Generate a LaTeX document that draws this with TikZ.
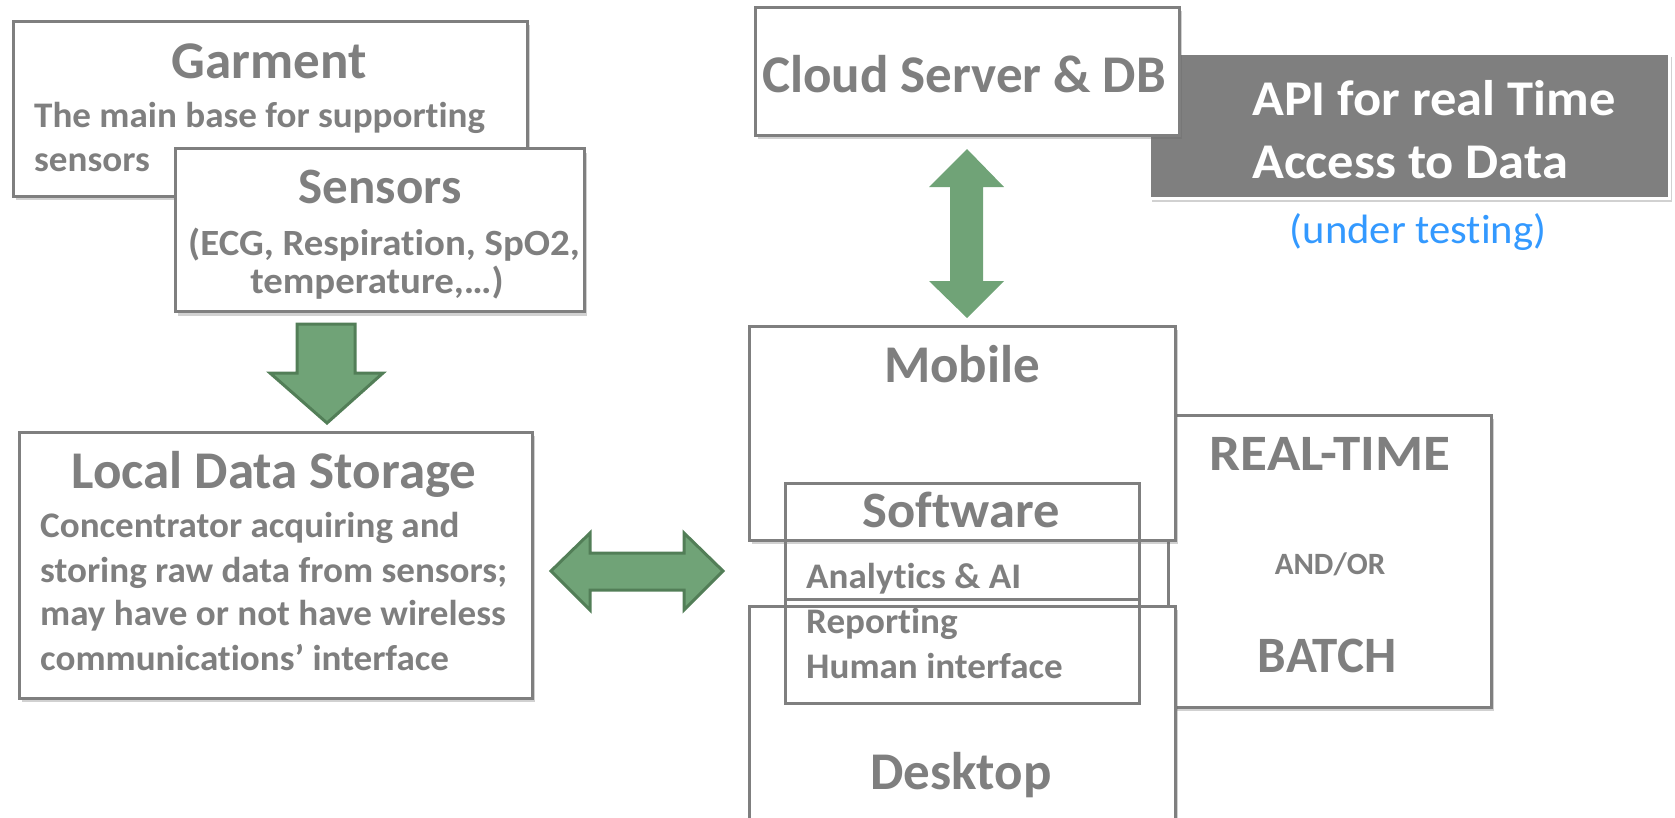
\documentclass[tikz,border=0pt]{standalone}
\usepackage{fontspec}
\setmainfont[Ligatures=NoCommon]{Carlito}
\usetikzlibrary{shadows}
\definecolor{bgray}{HTML}{7F7F7F}
\definecolor{gfill}{HTML}{70A377}
\definecolor{gline}{HTML}{527E57}
\definecolor{tblue}{HTML}{3399FF}
\begin{document}
\begin{tikzpicture}[x=1pt,y=-1pt,
  box/.style={draw=bgray, line width=3pt, fill=white, inner sep=0pt, outer sep=0pt,
    drop shadow={shadow xshift=3pt, shadow yshift=-4pt, opacity=0.3, fill=black!60}},
  plainbox/.style={draw=bgray, line width=3pt, inner sep=0pt, outer sep=0pt},
  ttl/.style={text=bgray, font=\fontsize{53}{60}\selectfont\bfseries, anchor=base, inner sep=0pt},
  bdy/.style={text=bgray, font=\fontsize{36}{40}\selectfont\bfseries\addfontfeature{FakeStretch=1.03}, anchor=base west, inner sep=0pt},
  sbdy/.style={text=bgray, font=\fontsize{37}{40}\selectfont\bfseries\addfontfeature{FakeStretch=1.05}, anchor=base, inner sep=0pt},
  garrow/.style={fill=gfill, draw=gline, line width=3pt, line join=miter},
]
\useasboundingbox (0,0) rectangle (1675,817);
\clip (0,0) rectangle (1675,817);

% Garment and Sensors
\node[box, minimum width=514pt, minimum height=175pt] (garment) at (270,108.5) {};
\node[ttl] (garmentT) at (269,78) {Garment};
\node[bdy] (garmentB1) at (34,127) {The main base for supporting};
\node[bdy] (garmentB2) at (34,171) {sensors};
\node[box, minimum width=409pt, minimum height=163pt] (sensors) at (379.5,230) {};
\node[ttl, font=\fontsize{51}{60}\selectfont\bfseries] (sensorsT) at (380,203) {Sensors};
\node[sbdy] (sensorsB1) at (384,255) {(ECG, Respiration, SpO2,};
\node[sbdy] (sensorsB2) at (377,293) {temperature,…)};

% down arrow
\draw[garrow] (297,324) -- (355,324) -- (355,373) -- (383,373) -- (327,423) -- (270,373) -- (297,373) -- cycle;

% Local data storage
\node[box, minimum width=513pt, minimum height=266pt] (local) at (275.5,565) {};
\node[ttl] (localT) at (274,488) {Local Data Storage};
\node[bdy] (localB1) at (40,537) {Concentrator acquiring and};
\node[bdy] (localB2) at (40,582) {storing raw data from sensors;};
\node[bdy] (localB3) at (40,625) {may have or not have wireless};
\node[bdy] (localB4) at (40,670) {communications’ interface};

% horizontal double arrow
\draw[garrow] (551,571) -- (590,533) -- (590,553) -- (684,553) -- (684,533) -- (723,571) -- (684,610) -- (684,590) -- (590,590) -- (590,610) -- cycle;

% API box and cloud
\node[draw=white, line width=3pt, fill=bgray, inner sep=0pt, minimum width=520pt, minimum height=145pt,
  drop shadow={shadow xshift=3pt, shadow yshift=-4pt, opacity=0.3, fill=black!60}] (api) at (1409,125.5) {};
\node[anchor=base west, inner sep=0pt, text=white, font=\fontsize{50}{60}\selectfont\bfseries\addfontfeature{FakeStretch=1.05}] (apiT1) at (1252,115) {API for real Time};
\node[anchor=base west, inner sep=0pt, text=white, font=\fontsize{50}{60}\selectfont\bfseries\addfontfeature{FakeStretch=1.05}] (apiT2) at (1252,178) {Access to Data};
\node[box, minimum width=424pt, minimum height=128pt] (cloud) at (967,71) {};
\node[ttl] (cloudT) at (964,92) {Cloud Server \& DB};
\node[anchor=base, inner sep=0pt, text=tblue, font=\fontsize{41}{48}\selectfont\addfontfeature{FakeStretch=1.04}] (testing) at (1418,243) {(under testing)};

% vertical double arrow
\fill[gfill] (967,149) -- (1004,187) -- (983,187) -- (983,281) -- (1004,281) -- (967,318) -- (929,281) -- (950,281) -- (950,187) -- (929,187) -- cycle;

% Real-time box
\node[box, minimum width=323pt, minimum height=292pt] (rt) at (1329.5,561) {};
\node[ttl, font=\fontsize{51}{60}\selectfont\bfseries\addfontfeature{FakeStretch=1.08}] (rtT) at (1330,470) {REAL-TIME};
\node[ttl, font=\fontsize{31}{36}\selectfont\bfseries] (andor) at (1330,574) {AND/OR};
\node[ttl, font=\fontsize{51}{60}\selectfont\bfseries] (batch) at (1327,672) {BATCH};

% Mobile and Desktop
\node[box, minimum width=426pt, minimum height=214pt] (mobile) at (962,433) {};
\node[ttl] (mobileT) at (962,382) {Mobile};
\node[box, minimum width=426pt, minimum height=240pt] (desktop) at (962,726) {};
\node[ttl] (desktopT) at (961,789) {Desktop};

% Software
\node[plainbox, minimum width=354pt, minimum height=220pt] (software) at (962,593) {};
\coordinate (s1) at (785,540);
\coordinate (s2) at (1139,540);
\coordinate (s3) at (785,599);
\coordinate (s4) at (1139,599);
\draw[bgray, line width=3pt] (s1) -- (s2);
\draw[bgray, line width=3pt] (s3) -- (s4);
\node[ttl, font=\fontsize{51}{60}\selectfont\bfseries\addfontfeature{FakeStretch=1.03}] (softwareT) at (961,527) {Software};
\node[bdy] (sw1) at (806,588) {Analytics \& AI};
\node[bdy] (sw2) at (806,633) {Reporting};
\node[bdy] (sw3) at (806,678) {Human interface};
\end{tikzpicture}
\end{document}
